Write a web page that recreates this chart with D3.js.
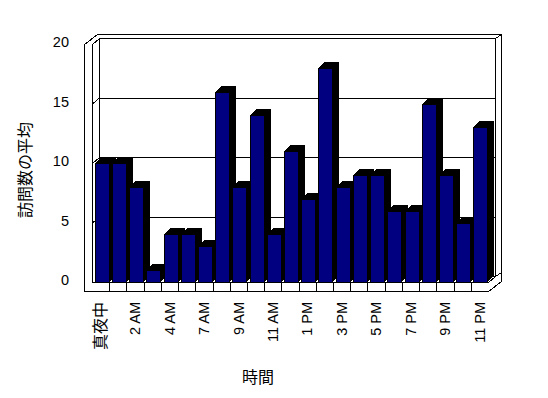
<!DOCTYPE html>
<html>
<head>
<meta charset="utf-8">
<script src="https://cdn.jsdelivr.net/npm/d3@7"></script>
<style>
  body { margin: 0; background: #fff; }
  svg { display: block; }
</style>
</head>
<body>
<div id="chart"></div>
<script>
// chart data
var categories = ["真夜中", "1 AM", "2 AM", "3 AM", "4 AM", "6 AM", "7 AM", "8 AM", "9 AM", "10 AM", "11 AM", "正午",
                  "1 PM", "2 PM", "3 PM", "4 PM", "5 PM", "6 PM", "7 PM", "8 PM", "9 PM", "10 PM", "11 PM"];
var values = [10, 10, 8, 1, 4, 4, 3, 16, 8, 14, 4, 11, 7, 18, 8, 9, 9, 6, 6, 15, 9, 5, 13];
var yTicks = [0, 5, 10, 15, 20];
var xTickLabels = categories.filter((d, i) => i % 2 == 0);
var yTitle = "訪問数の平均";
var xTitle = "時間";

var plotVariables = {
    width: 548,
    height: 398,
    left: 92,       // inner face of the left wall
    right: 488,     // end of floor, front
    bottom: 282,    // floor top, front
    top: 44,        // value 20 at front plane
    depthX: 7,      // oblique depth offset
    depthY: 6,
    wall: 8,        // left wall thickness
    floor: 9,       // floor thickness
    backX: 6,       // back wall thickness
    backY: 4,
    barRatio: 0.81
};
var pv = plotVariables;

var svg = d3.select('#chart').append('svg')
    .attr('width', pv.width)
    .attr('height', pv.height);

var x = d3.scaleBand()
    .domain(categories)
    .range([pv.left, pv.right])
    .padding(0);

var y = d3.scaleLinear()
    .domain([0, 20])
    .range([pv.bottom, pv.top]);

var h = 0.5; // half pixel for crisp lines
var bx = pv.left + pv.depthX, by = pv.depthY; // back plane
var backRight = pv.right + pv.depthX;
var backBottom = pv.bottom - pv.depthY;

// walls and floor
var frame = svg.append('g')
    .attr('fill', 'none')
    .attr('stroke', 'black')
    .attr('stroke-width', 1)
    .attr('shape-rendering', 'crispEdges');

var outline = [
    [pv.left - pv.wall, y(20)],
    [pv.left - pv.wall + pv.depthX + pv.backX, y(20) - pv.depthY - pv.backY],
    [backRight + pv.backX, y(20) - pv.depthY - pv.backY],
    [backRight + pv.backX, pv.bottom + pv.floor - pv.depthY - pv.backY],
    [pv.right, pv.bottom + pv.floor],
    [pv.left - pv.wall, pv.bottom + pv.floor]
];
frame.append('path')
    .attr('fill', 'white')
    .attr('d', 'M' + outline.map(p => [p[0] + h, p[1] + h].join(',')).join('L') + 'Z');

function seg(pts) {
    frame.append('path')
        .attr('d', 'M' + pts.map(p => [p[0] + h, p[1] + h].join(',')).join('L'));
}

// left wall inner front edge and corner with back wall
seg([[pv.left, y(20)], [pv.left, pv.bottom]]);
seg([[bx, y(20) - by], [bx, backBottom]]);
// back wall front face and its thickness
seg([[backRight, y(20) - by], [backRight, backBottom]]);
seg([[backRight, y(20) - by], [backRight + pv.backX, y(20) - by - pv.backY]]);
// floor edges
seg([[pv.left, pv.bottom], [pv.right, pv.bottom], [backRight, backBottom], [bx, backBottom]]);
seg([[backRight, backBottom], [backRight + pv.backX, backBottom - pv.backY]]);

// gridlines on the back wall
yTicks.filter(d => d > 0).forEach(function (d) {
    seg([[pv.left, y(d)], [bx, y(d) - by], [backRight, y(d) - by]]);
});

// category ticks on the front edge of the floor
frame.selectAll('line.cat')
    .data(categories.slice(1))
    .join('line')
    .attr('class', 'cat')
    .attr('x1', d => x(d) + h)
    .attr('x2', d => x(d) + h)
    .attr('y1', pv.bottom)
    .attr('y2', pv.bottom + pv.floor);

// bars, drawn left to right so each front covers the previous side
var bw = x.bandwidth() * pv.barRatio;
var bars = svg.append('g')
    .attr('shape-rendering', 'crispEdges');

categories.forEach(function (c, i) {
    var x0 = Math.round(x(c) + (x.bandwidth() - bw) / 2) + 1;
    var x1 = Math.round(x0 + bw);
    var yt = Math.round(y(values[i]));
    var g = bars.append('g');
    g.append('path')
        .attr('fill', 'black')
        .attr('d', `M${x1},${yt}L${x1 + pv.depthX},${yt - pv.depthY}L${x1 + pv.depthX},${backBottom}L${x1},${pv.bottom}Z`);
    g.append('path')
        .attr('fill', 'black')
        .attr('d', `M${x0},${yt}L${x0 + pv.depthX},${yt - pv.depthY}L${x1 + pv.depthX},${yt - pv.depthY}L${x1},${yt}Z`);
    g.append('rect')
        .attr('x', x0 + h)
        .attr('y', yt + h)
        .attr('width', x1 - x0)
        .attr('height', pv.bottom - yt)
        .attr('fill', '#000080')
        .attr('stroke', 'black');
});

var fontLatin = '"Liberation Sans", "Noto Sans CJK JP", sans-serif';
var fontJp = '"Noto Sans CJK JP", sans-serif';

// y axis labels
var yAxis = svg.append('g')
    .attr('transform', `translate(${pv.left - pv.wall},-2)`)
    .call(d3.axisLeft(y).tickValues(yTicks).tickSize(0).tickPadding(15));
yAxis.select('.domain').remove();
yAxis.selectAll('text')
    .attr('font-family', fontLatin)
    .attr('font-size', '14.5px')
    .attr('fill', 'black');

// x axis labels, every other category, rotated
var xAxis = svg.append('g')
    .attr('transform', `translate(0,${pv.bottom + pv.floor})`)
    .call(d3.axisBottom(x).tickValues(xTickLabels).tickSize(0));
xAxis.select('.domain').remove();
xAxis.selectAll('text')
    .attr('transform', 'rotate(-90)')
    .attr('text-anchor', 'end')
    .attr('x', -11)
    .attr('y', 0)
    .attr('dy', '0.36em')
    .attr('font-family', d => /[^\x00-\x7F]/.test(d) ? fontJp : fontLatin)
    .attr('font-size', d => /[^\x00-\x7F]/.test(d) ? '16px' : '14.5px')
    .attr('fill', 'black');

// axis titles
svg.append('text')
    .attr('transform', 'translate(24,170) rotate(-90)')
    .attr('text-anchor', 'middle')
    .attr('dominant-baseline', 'central')
    .attr('font-family', fontJp)
    .attr('font-size', '16px')
    .text(yTitle);

svg.append('text')
    .attr('x', 258)
    .attr('y', 376)
    .attr('text-anchor', 'middle')
    .attr('dominant-baseline', 'central')
    .attr('font-family', fontJp)
    .attr('font-size', '16px')
    .text(xTitle);
</script>
</body>
</html>
